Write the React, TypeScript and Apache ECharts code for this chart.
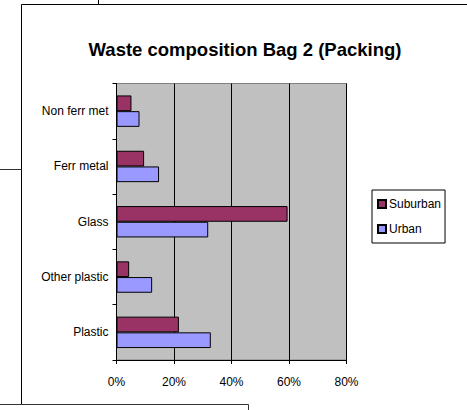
import React, { useEffect, useRef } from "react";
import * as echarts from "echarts";

const categories = ["Plastic", "Other plastic", "Glass", "Ferr metal", "Non ferr met"];
const suburban = [21.7, 4.4, 59.5, 9.6, 5.2];
const urban = [32.8, 12.4, 31.9, 14.8, 8.0];
const xTicks = [0, 20, 40, 60, 80];
const titleText = "Waste composition Bag 2 (Packing)";

export default function App() {
  const ref = useRef<HTMLDivElement>(null);
  useEffect(() => {
    const chart = echarts.init(ref.current!, null, { renderer: "svg" });
    const font = "Arial, 'Liberation Sans', sans-serif";
    chart.setOption({
      animation: false,
      backgroundColor: "#ffffff",
      title: {
        text: titleText,
        left: 240,
        textAlign: "center",
        top: 35,
        textStyle: { fontFamily: font, fontSize: 18.5, fontWeight: "bold", color: "#000" },
      },
      legend: {
        data: ["Suburban", "Urban"],
        orient: "vertical",
        left: 372,
        top: 190,
        width: 75,
        padding: [8, 4, 8, 5],
        itemGap: 13,
        itemWidth: 8,
        itemHeight: 8,
        icon: "rect",
        borderColor: "#000",
        borderWidth: 1,
        backgroundColor: "#fff",
        textStyle: { fontFamily: font, fontSize: 12, color: "#000", padding: [0, 0, 0, -2] },
      },
      grid: {
        left: 116.5,
        top: 83.5,
        width: 230,
        height: 276.5,
        show: true,
        backgroundColor: "#C0C0C0",
        borderColor: "#808080",
        borderWidth: 1,
        containLabel: false,
      },
      xAxis: {
        type: "value",
        min: xTicks[0],
        max: xTicks[xTicks.length - 1],
        interval: 20,
        axisLine: { show: true, lineStyle: { color: "#000", width: 1 } },
        axisTick: { show: true, length: 4, lineStyle: { color: "#000" } },
        axisLabel: { fontFamily: font, fontSize: 12, color: "#000", margin: 16, formatter: "{value}%" },
        splitLine: { show: true, lineStyle: { color: "#000", width: 1 } },
      },
      yAxis: {
        type: "category",
        data: categories,
        axisLine: { show: true, lineStyle: { color: "#000", width: 1 } },
        axisTick: { show: true, length: 4, lineStyle: { color: "#000" } },
        axisLabel: { fontFamily: font, fontSize: 12, color: "#000", margin: 8 },
        splitLine: { show: false },
      },
      series: [
        {
          name: "Suburban",
          type: "bar",
          data: suburban,
          barWidth: 15.7,
          barGap: "0%",
          itemStyle: { color: "#993366", borderColor: "#000", borderWidth: 1 },
        },
        {
          name: "Urban",
          type: "bar",
          data: urban,
          barWidth: 15.7,
          barGap: "0%",
          itemStyle: { color: "#9999FF", borderColor: "#000", borderWidth: 1 },
        },
      ],
      graphic: [
        { type: "line", shape: { x1: 21.5, y1: 4.5, x2: 467, y2: 4.5 }, style: { stroke: "#000", lineWidth: 1 } },
        { type: "line", shape: { x1: 21.5, y1: 4.5, x2: 21.5, y2: 404.5 }, style: { stroke: "#000", lineWidth: 1 } },
        { type: "line", shape: { x1: 98.5, y1: 0, x2: 98.5, y2: 4.5 }, style: { stroke: "#000", lineWidth: 1 } },
        { type: "line", shape: { x1: 0, y1: 169.5, x2: 21.5, y2: 169.5 }, style: { stroke: "#333", lineWidth: 1 } },
        { type: "line", shape: { x1: 0, y1: 404.5, x2: 248.5, y2: 404.5 }, style: { stroke: "#333", lineWidth: 1 } },
        { type: "line", shape: { x1: 248.5, y1: 404.5, x2: 248.5, y2: 410 }, style: { stroke: "#333", lineWidth: 1 } },
      ],
    });
    return () => chart.dispose();
  }, []);
  return (
    <div
      ref={ref}
      style={{ position: "fixed", left: 0, top: 0, width: 467, height: 410, background: "#fff" }}
    />
  );
}
